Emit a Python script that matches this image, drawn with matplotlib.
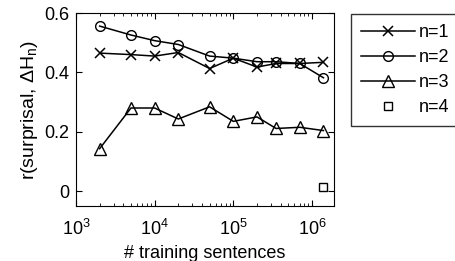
import matplotlib
matplotlib.use('Agg')
import matplotlib.pyplot as plt
from matplotlib.ticker import LogLocator, NullFormatter, FixedLocator

plt.rcParams['font.family'] = ['Liberation Sans', 'DejaVu Sans']
plt.rcParams['mathtext.fontset'] = 'custom'
plt.rcParams['mathtext.rm'] = 'Liberation Sans'
plt.rcParams['mathtext.it'] = 'Liberation Sans'

# training set sizes (number of sentences)
sizes = [2e3, 5e3, 1e4, 2e4, 5e4, 1e5, 2e5, 3.5e5, 7e5, 1.4e6]
r_n1 = [0.465, 0.46, 0.455, 0.467, 0.413, 0.448, 0.418, 0.43, 0.43, 0.434]
r_n2 = [0.556, 0.526, 0.507, 0.494, 0.455, 0.448, 0.436, 0.436, 0.43, 0.382]
r_n3 = [0.143, 0.28, 0.28, 0.243, 0.284, 0.235, 0.25, 0.211, 0.215, 0.204]
sizes_n4 = [1.4e6]
r_n4 = [0.015]

fig = plt.figure(figsize=(4.55, 2.61), dpi=100)
ax = fig.add_axes([0.167, 0.211, 0.567, 0.739])

ax.plot(sizes, r_n1, color='black', marker='x', markersize=7, linewidth=1.1,
        markeredgewidth=1.1, label='n=1')
ax.plot(sizes, r_n2, color='black', marker='o', markersize=7, linewidth=1.1,
        markerfacecolor='none', markeredgewidth=1.0, label='n=2')
ax.plot(sizes, r_n3, color='black', marker='^', markersize=8, linewidth=1.1,
        markerfacecolor='none', markeredgewidth=1.0, label='n=3')
ax.plot(sizes_n4, r_n4, color='black', marker='s', markersize=6, linestyle='none',
        markerfacecolor='none', markeredgewidth=1.0, label='n=4')

ax.set_xscale('log')
ax.set_xlim(1e3, 10 ** 6.28)
ax.set_ylim(-0.05, 0.6)
ax.set_yticks([0, 0.2, 0.4, 0.6])
ax.set_yticklabels(['0', '0.2', '0.4', '0.6'])
ax.xaxis.set_major_locator(FixedLocator([1e3, 1e4, 1e5, 1e6]))
ax.xaxis.set_minor_locator(LogLocator(base=10, subs=range(2, 10)))
ax.xaxis.set_minor_formatter(NullFormatter())

ax.tick_params(which='both', direction='in', top=True, right=True, labelsize=13)
ax.tick_params(which='major', length=4)
ax.tick_params(which='minor', length=2)
ax.tick_params(axis='x', pad=9)
ax.tick_params(axis='y', pad=5)

ax.set_xlabel('# training sentences', fontsize=13, labelpad=5)
ax.set_ylabel(r'r(surprisal, $\Delta$H$_n$)', fontsize=14, labelpad=3)

fig.legend(loc='upper left', bbox_to_anchor=(351 / 455, 1 - 14 / 261),
           frameon=True, fancybox=False, edgecolor='black', fontsize=13,
           handlelength=3.0, handletextpad=0.2, borderaxespad=0,
           borderpad=0.55, labelspacing=0.45)

fig.savefig('out.png', dpi=100)
